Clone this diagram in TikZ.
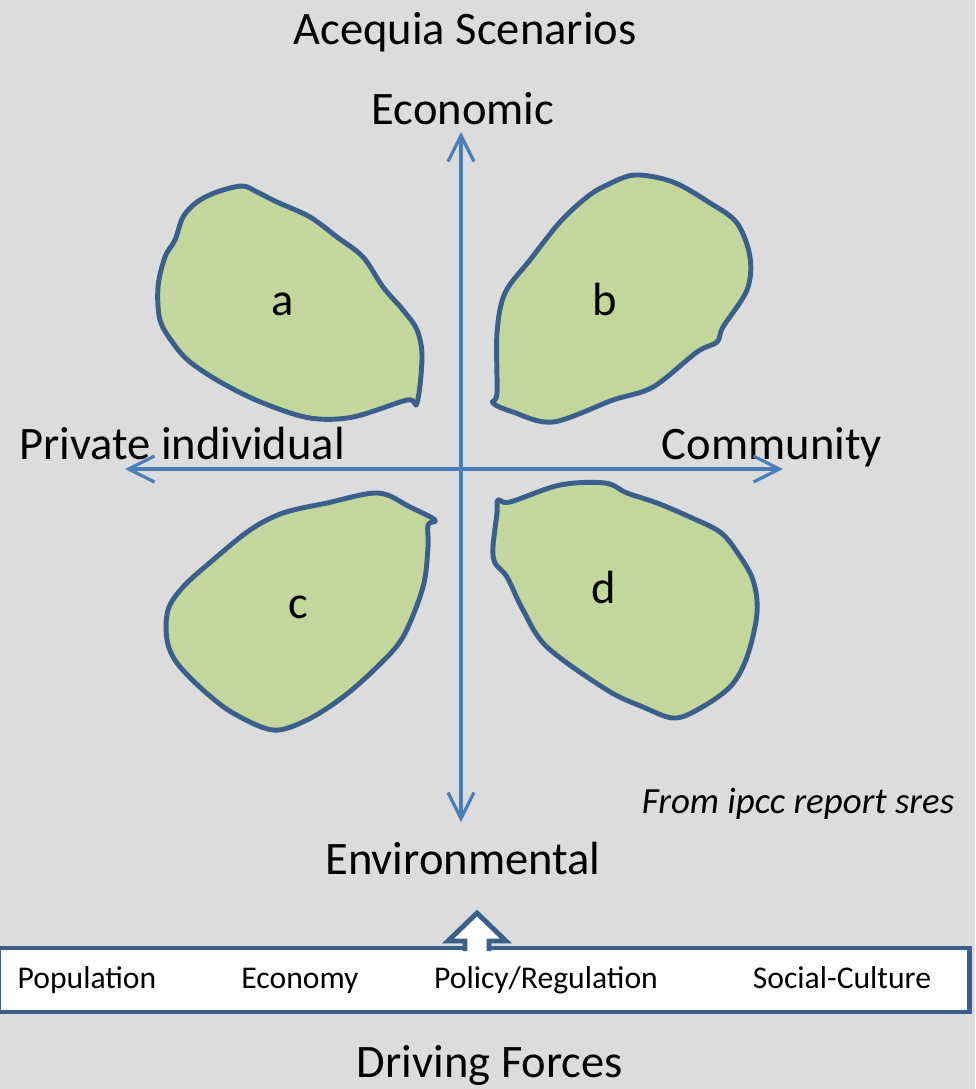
\documentclass[tikz,border=0pt]{standalone}
\usepackage{fontspec}
\setmainfont{Carlito}
\usetikzlibrary{arrows.meta,positioning}

\definecolor{bgGray}{HTML}{DCDCDC}
\definecolor{axisBlue}{HTML}{4A7EBB}
\definecolor{blobLine}{HTML}{3A5F8B}
\definecolor{blobFill}{HTML}{C3D69B}

\begin{document}
\begin{tikzpicture}[
  x=0.02cm, y=-0.02cm,
  big/.style={font=\fontsize{26.5}{30}\selectfont, inner sep=0pt, anchor=base},
  lbl/.style={font=\fontsize{18}{21}\selectfont, inner sep=0pt, anchor=base},
  src/.style={font=\fontsize{21}{24}\selectfont\itshape, inner sep=0pt, anchor=base},
  blob/.style={draw=blobLine, fill=blobFill, line width=2.8pt, line join=round},
  axis/.style={{Straight Barb[length=5.2mm,width=5.2mm]}-{Straight Barb[length=5.2mm,width=5.2mm]},
               axisBlue, line width=1.8pt},
  forcebox/.style={draw=blobLine, fill=white, line width=2.8pt,
                   minimum width=19.44cm, minimum height=1.28cm, inner sep=0pt},
  push/.style={draw=blobLine, fill=white, line width=2.8pt, line join=miter},
]

% ---------------- background --------------------------------------------
\fill[bgGray] (0,0) rectangle (975,1089);
\useasboundingbox (0,0) rectangle (975,1089);

% ---------------- titles ------------------------------------------------
\node[big] (title) at (465,44) {Acequia Scenarios};
\node[big] (econ) at (463,124) {Economic};
\node[big] (priv) at (182,459) {Private individual};
\node[big] (comm) at (772,459) {Community};
\node[big] (envi) at (463,874) {Environmental};
\node[src] (from) at (798,813) {From ipcc report sres};

% ---------------- scenario blobs ----------------------------------------
\draw[blob] plot[smooth cycle, tension=0.55] coordinates {
  (242,186) (217,192) (197,202) (183,217) (175,240) (165,257) (158,287)
  (160,320) (173,343) (190,362) (222,383) (263,403) (310,418) (353,417)
  (407,400) (417,403) (422,357) (417,330) (403,310) (383,287) (363,257)
  (337,237) (310,217) (277,202) (257,192)};
\draw[blob] plot[smooth cycle, tension=0.55] coordinates {
  (635,175) (607,185) (587,197) (560,222) (530,260) (505,293) (497,333)
  (497,393) (493,403) (513,412) (553,422) (613,400) (653,387) (697,352)
  (717,342) (723,327) (747,290) (750,257) (737,223) (710,203) (673,182)};
\draw[blob] plot[smooth cycle, tension=0.55] coordinates {
  (378,493) (327,503) (283,513) (250,530) (213,560) (183,587) (168,610)
  (167,640) (177,663) (203,690) (233,713) (273,730) (307,720) (343,697)
  (377,667) (403,637) (423,587) (428,547) (428,525) (435,520) (410,507)};
\draw[blob] plot[smooth cycle, tension=0.55] coordinates {
  (498,500) (510,502) (560,485) (605,483) (627,493) (657,503) (690,517)
  (720,532) (737,552) (753,580) (757,613) (747,657) (730,687) (697,710)
  (673,718) (643,707) (607,690) (547,647) (523,610) (507,577) (495,563)
  (493,547) (497,513)};

\node[big] (sa) at (283,315) {a};
\node[big] (sb) at (605,315) {b};
\node[big] (sc) at (298,618) {c};
\node[big] (sd) at (604,603) {d};

% ---------------- axes --------------------------------------------------
\coordinate (ntop) at (461,132);
\coordinate (nbot) at (461,822);
\coordinate (wend) at (125,469);
\coordinate (eend) at (783,469);
\draw[axis] (nbot) -- (ntop);
\draw[axis] (wend) -- (eend);

% ---------------- driving forces ----------------------------------------
\node[forcebox] (forces) at (484,980) {};
\draw[push] (465,951) -- (465,941) -- (448,941) -- (477,913)
  -- (506,941) -- (489,941) -- (489,951);

\node[lbl] (pop) at (87,988) {Population};
\node[lbl] (eco) at (300,988) {Economy};
\node[lbl] (pol) at (546,988) {Policy/Regulation};
\node[lbl] (soc) at (842,988) {Social-Culture};

\node[big] (drive) at (490,1077) {Driving Forces};

\end{tikzpicture}
\end{document}
